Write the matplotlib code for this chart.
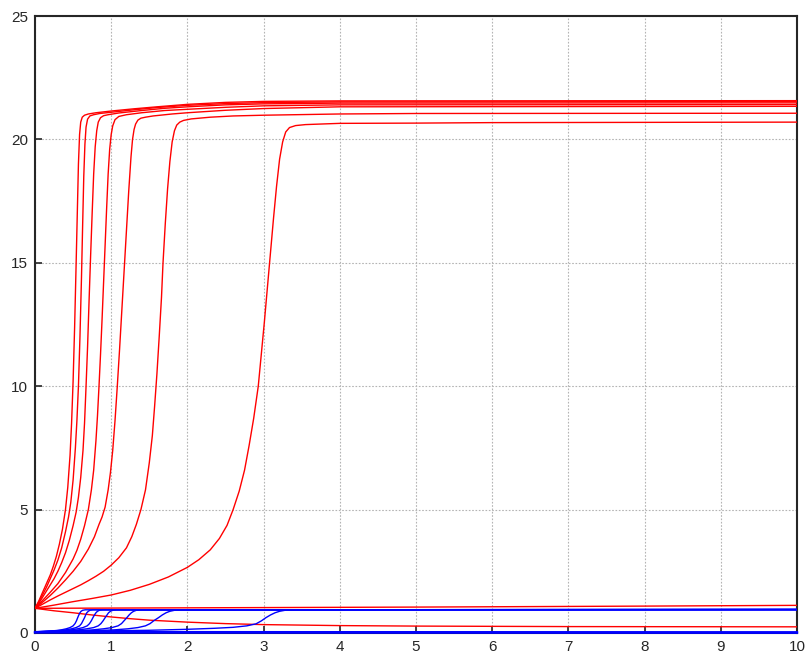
import matplotlib
matplotlib.use("Agg")
import matplotlib.pyplot as plt

plt.rcParams['font.family'] = ['Liberation Sans', 'DejaVu Sans']

# ---- red curves (fast rising) ----
red_a_x = [0, 0.05, 0.1, 0.15, 0.2, 0.24, 0.28, 0.32, 0.36, 0.40, 0.43, 0.46, 0.48, 0.50, 0.52, 0.54, 0.555, 0.57, 0.585, 0.60, 0.62, 0.65, 0.7, 0.8, 1.0, 1.3, 1.6, 2.0, 2.5, 3.0, 4.0, 10]
red_a_y = [1, 1.3, 1.65, 2.0, 2.35, 2.7, 3.1, 3.6, 4.2, 5.0, 5.9, 7.2, 8.5, 10.2, 12.4, 15.0, 17.0, 19.0, 20.2, 20.7, 20.9, 20.98, 21.03, 21.08, 21.15, 21.24, 21.32, 21.42, 21.5, 21.54, 21.56, 21.57]

red_b_x = [0, 0.05, 0.1, 0.15, 0.2, 0.25, 0.3, 0.35, 0.40, 0.44, 0.47, 0.50, 0.53, 0.55, 0.57, 0.59, 0.61, 0.625, 0.64, 0.655, 0.67, 0.69, 0.72, 0.77, 0.85, 1.0, 1.3, 1.6, 2.0, 2.5, 3.0, 4.0, 10]
red_b_y = [1, 1.25, 1.55, 1.85, 2.2, 2.55, 2.95, 3.45, 4.1, 4.7, 5.3, 6.2, 7.5, 8.6, 10.0, 12.0, 14.4, 16.5, 18.5, 19.8, 20.5, 20.82, 20.95, 21.0, 21.05, 21.1, 21.2, 21.29, 21.38, 21.45, 21.49, 21.52, 21.53]

red_c_x = [0, 0.05, 0.1, 0.15, 0.2, 0.25, 0.3, 0.35, 0.4, 0.45, 0.5, 0.54, 0.57, 0.60, 0.63, 0.65, 0.67, 0.69, 0.71, 0.73, 0.75, 0.77, 0.79, 0.81, 0.83, 0.86, 0.9, 0.96, 1.1, 1.4, 1.7, 2.0, 2.5, 3.0, 4.0, 10]
red_c_y = [1, 1.2, 1.45, 1.7, 1.95, 2.2, 2.5, 2.85, 3.25, 3.75, 4.35, 4.9, 5.5, 6.3, 7.4, 8.5, 10.0, 11.6, 13.5, 15.3, 17.0, 18.6, 19.7, 20.35, 20.7, 20.88, 20.96, 21.0, 21.07, 21.17, 21.26, 21.32, 21.4, 21.44, 21.47, 21.48]

red_d_x = [0, 0.05, 0.1, 0.2, 0.3, 0.4, 0.5, 0.55, 0.6, 0.65, 0.7, 0.74, 0.77, 0.80, 0.82, 0.84, 0.86, 0.88, 0.90, 0.92, 0.94, 0.96, 0.98, 1.0, 1.02, 1.05, 1.1, 1.2, 1.4, 1.7, 2.0, 2.5, 3.0, 4.0, 10]
red_d_y = [1, 1.15, 1.32, 1.65, 2.0, 2.45, 3.0, 3.35, 3.8, 4.35, 5.0, 5.8, 6.6, 7.8, 8.8, 10.0, 11.3, 12.7, 14.2, 15.7, 17.2, 18.6, 19.6, 20.2, 20.55, 20.8, 20.93, 21.0, 21.08, 21.17, 21.22, 21.3, 21.36, 21.4, 21.41]

red_e_x = [0, 0.1, 0.2, 0.3, 0.4, 0.5, 0.6, 0.7, 0.78, 0.84, 0.88, 0.92, 0.96, 0.99, 1.02, 1.05, 1.08, 1.11, 1.14, 1.17, 1.20, 1.23, 1.26, 1.28, 1.30, 1.32, 1.35, 1.39, 1.45, 1.55, 1.8, 2.0, 2.5, 3.0, 4.0, 10]
red_e_y = [1, 1.25, 1.52, 1.82, 2.15, 2.5, 2.9, 3.4, 3.9, 4.4, 4.7, 5.1, 5.8, 6.5, 7.4, 8.6, 10.0, 11.5, 13.1, 14.7, 16.3, 17.9, 19.3, 20.0, 20.4, 20.62, 20.78, 20.86, 20.9, 20.95, 21.03, 21.08, 21.18, 21.25, 21.32, 21.34]

red_f_x = [0, 0.1, 0.2, 0.3, 0.4, 0.5, 0.6, 0.7, 0.8, 0.9, 1.0, 1.1, 1.2, 1.27, 1.33, 1.39, 1.45, 1.50, 1.54, 1.57, 1.60, 1.63, 1.66, 1.68, 1.71, 1.74, 1.77, 1.80, 1.83, 1.86, 1.90, 1.95, 2.05, 2.3, 2.6, 3.0, 4.0, 5.0, 10]
red_f_y = [1, 1.17, 1.34, 1.5, 1.65, 1.8, 1.95, 2.12, 2.3, 2.5, 2.75, 3.05, 3.45, 3.9, 4.4, 5.0, 5.8, 6.9, 8.0, 9.2, 10.5, 12.0, 13.6, 15.0, 16.6, 18.0, 19.1, 19.9, 20.35, 20.58, 20.7, 20.77, 20.83, 20.9, 20.95, 20.98, 21.03, 21.05, 21.06]

red_g_x = [0, 0.25, 0.5, 0.75, 1.0, 1.25, 1.5, 1.75, 2.0, 2.15, 2.3, 2.42, 2.52, 2.6, 2.68, 2.75, 2.81, 2.87, 2.93, 2.97, 3.01, 3.05, 3.09, 3.13, 3.17, 3.21, 3.25, 3.29, 3.34, 3.42, 3.55, 4.0, 5.0, 6.0, 10]
red_g_y = [1, 1.13, 1.27, 1.4, 1.54, 1.73, 1.97, 2.27, 2.66, 2.97, 3.37, 3.83, 4.36, 5.0, 5.75, 6.6, 7.6, 8.7, 10.0, 11.3, 12.6, 14.0, 15.4, 16.8, 18.1, 19.2, 19.9, 20.3, 20.48, 20.56, 20.6, 20.65, 20.66, 20.68, 20.7]

# ---- red curves (slow) ----
red_up_x = [0, 2, 5, 8, 10]
red_up_y = [1.0, 1.02, 1.05, 1.09, 1.12]
red_down_x = [0, 0.25, 0.5, 0.75, 1, 1.25, 1.5, 2, 2.5, 3, 4, 5, 7, 10]
red_down_y = [1, 0.9, 0.82, 0.73, 0.65, 0.58, 0.52, 0.44, 0.38, 0.34, 0.30, 0.28, 0.26, 0.25]

# ---- blue curves (switching) ----
blue_fast_y = [0.05, 0.06, 0.08, 0.10, 0.13, 0.17, 0.22, 0.29, 0.38, 0.5, 0.62, 0.73, 0.82, 0.88, 0.92, 0.94, 0.95]
blue_a_x = [0, 0.1, 0.2, 0.28, 0.35, 0.41, 0.46, 0.50, 0.525, 0.545, 0.56, 0.575, 0.59, 0.605, 0.625, 0.66, 10]
blue_b_x = [0, 0.12, 0.24, 0.33, 0.41, 0.48, 0.54, 0.585, 0.61, 0.63, 0.65, 0.665, 0.68, 0.70, 0.72, 0.76, 10]
blue_c_x = [0, 0.14, 0.28, 0.39, 0.48, 0.56, 0.63, 0.685, 0.715, 0.74, 0.76, 0.78, 0.80, 0.82, 0.845, 0.89, 10]
blue_d_x = [0, 0.17, 0.34, 0.47, 0.58, 0.68, 0.77, 0.83, 0.865, 0.895, 0.92, 0.945, 0.965, 0.99, 1.02, 1.07, 10]
blue_e_x = [0, 0.22, 0.44, 0.62, 0.77, 0.9, 1.01, 1.09, 1.135, 1.17, 1.205, 1.235, 1.265, 1.295, 1.33, 1.40, 10]
blue_f_x = [0, 0.3, 0.6, 0.85, 1.05, 1.22, 1.35, 1.45, 1.51, 1.56, 1.62, 1.67, 1.72, 1.77, 1.83, 1.92, 10]
blue_g_x = [0, 0.5, 1.0, 1.5, 2.0, 2.35, 2.6, 2.78, 2.9, 2.97, 3.03, 3.09, 3.15, 3.21, 3.28, 3.4, 10]
blue_g_y = [0.05, 0.07, 0.09, 0.11, 0.15, 0.19, 0.23, 0.29, 0.37, 0.49, 0.62, 0.73, 0.82, 0.88, 0.92, 0.94, 0.95]

# ---- blue flat ----
blue_flat1_x = [0, 10]
blue_flat1_y = [0.04, 0.03]
blue_flat2_x = [0, 10]
blue_flat2_y = [0.02, 0.01]

xticks = [0, 1, 2, 3, 4, 5, 6, 7, 8, 9, 10]
yticks = [0, 5, 10, 15, 20, 25]

fig = plt.figure(figsize=(8.09, 6.55), dpi=100)
ax = fig.add_axes([35/809, 1-633/655, (797-35)/809, (633-16)/655])

RED = '#ff0000'
BLUE = '#0000ff'
lw = 1.0

for xs, ys in [(red_a_x, red_a_y), (red_b_x, red_b_y), (red_c_x, red_c_y),
               (red_d_x, red_d_y), (red_e_x, red_e_y), (red_f_x, red_f_y),
               (red_g_x, red_g_y), (red_up_x, red_up_y), (red_down_x, red_down_y)]:
    ax.plot(xs, ys, color=RED, lw=lw, zorder=3)

for xs, ys in [(blue_a_x, blue_fast_y), (blue_b_x, blue_fast_y), (blue_c_x, blue_fast_y),
               (blue_d_x, blue_fast_y), (blue_e_x, blue_fast_y), (blue_f_x, blue_fast_y),
               (blue_g_x, blue_g_y)]:
    ax.plot(xs, ys, color=BLUE, lw=lw, zorder=3)

for xs, ys in [(blue_flat1_x, blue_flat1_y), (blue_flat2_x, blue_flat2_y)]:
    ax.plot(xs, ys, color=BLUE, lw=1.6, zorder=5, clip_on=False)

ax.set_xlim(0, 10)
ax.set_ylim(0, 25)
ax.set_xticks(xticks)
ax.set_yticks(yticks)
ax.set_xticklabels([str(v) for v in xticks])
ax.set_yticklabels([str(v) for v in yticks])
ax.grid(True, color='#b4b4b4', linestyle=(0, (1.5, 1.5)), linewidth=0.8)
ax.set_axisbelow(True)
ax.tick_params(direction='in', length=5, width=1.2, labelsize=11, colors='#262626',
               top=False, right=False, pad=5)
for sp in ax.spines.values():
    sp.set_linewidth(1.5)
    sp.set_color('#262626')

fig.savefig('out.png', dpi=100)
